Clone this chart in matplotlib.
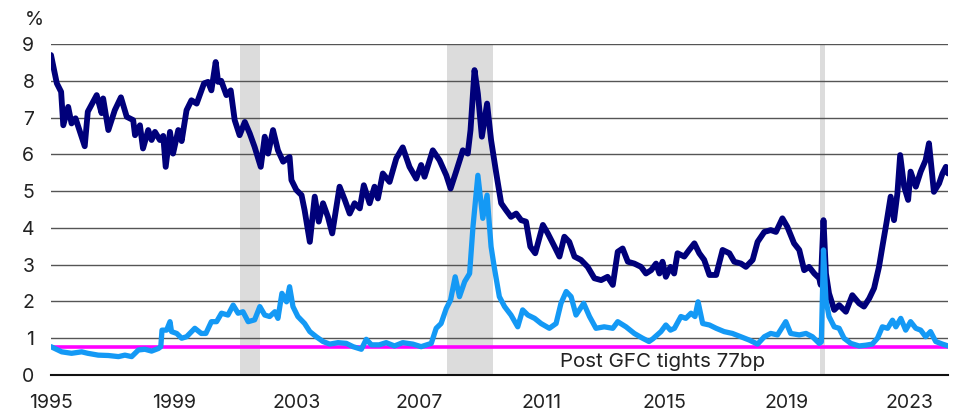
import numpy as np
import matplotlib
matplotlib.use("Agg")
import matplotlib.pyplot as plt

plt.rcParams['font.family'] = ['Inter', 'DejaVu Sans']

# yield (dark navy), decimal years
yield_dates = [1995.0, 1995.19, 1995.33, 1995.40, 1995.56, 1995.67, 1995.8, 1996.1, 1996.2, 1996.49,
               1996.65, 1996.7, 1996.87, 1997.08, 1997.28, 1997.47, 1997.68, 1997.74, 1997.9, 1998.0,
               1998.17, 1998.28, 1998.39, 1998.55, 1998.66, 1998.74, 1998.88, 1998.98, 1999.15, 1999.26,
               1999.42, 1999.58, 1999.75, 1999.85, 1999.99, 2000.12, 2000.23, 2000.37, 2000.45, 2000.55,
               2000.72, 2000.86, 2000.99, 2001.15, 2001.32, 2001.48, 2001.64, 2001.84, 2001.97, 2002.08,
               2002.24, 2002.40, 2002.57, 2002.78, 2002.84, 2003.0, 2003.17, 2003.27, 2003.44, 2003.6,
               2003.73, 2003.87, 2004.03, 2004.17, 2004.41, 2004.58, 2004.74, 2004.9, 2005.07, 2005.2,
               2005.39, 2005.55, 2005.66, 2005.82, 2006.04, 2006.26, 2006.47, 2006.69, 2006.91, 2007.07,
               2007.18, 2007.45, 2007.67, 2007.89, 2008.03, 2008.21, 2008.43, 2008.59, 2008.68, 2008.81,
               2008.92, 2009.05, 2009.22, 2009.35, 2009.52, 2009.68, 2009.84, 2010.0, 2010.17, 2010.33,
               2010.49, 2010.63, 2010.79, 2011.04, 2011.2, 2011.42, 2011.58, 2011.74, 2011.9, 2012.07,
               2012.28, 2012.5, 2012.72, 2012.94, 2013.15, 2013.32, 2013.48, 2013.64, 2013.81, 2014.02,
               2014.24, 2014.4, 2014.57, 2014.73, 2014.84, 2014.94, 2015.05, 2015.2, 2015.32, 2015.43,
               2015.65, 2015.81, 2015.98, 2016.14, 2016.3, 2016.47, 2016.69, 2016.9, 2017.12, 2017.28,
               2017.5, 2017.66, 2017.88, 2018.04, 2018.26, 2018.47, 2018.64, 2018.85, 2019.01, 2019.23,
               2019.4, 2019.56, 2019.72, 2019.89, 2020.05, 2020.1, 2020.19, 2020.27, 2020.37, 2020.54,
               2020.7, 2020.92, 2021.13, 2021.35, 2021.51, 2021.68, 2021.84, 2022.0, 2022.11, 2022.25,
               2022.38, 2022.49, 2022.6, 2022.69, 2022.82, 2022.95, 2023.03, 2023.2, 2023.36, 2023.52,
               2023.63, 2023.79, 2023.96, 2024.07, 2024.18, 2024.25]
yield_vals = [8.70, 7.93, 7.70, 6.79, 7.29, 6.84, 6.98, 6.22, 7.16, 7.61,
              7.12, 7.52, 6.66, 7.20, 7.55, 7.02, 6.93, 6.52, 6.79, 6.16,
              6.66, 6.39, 6.61, 6.39, 6.50, 5.66, 6.61, 6.02, 6.66, 6.36,
              7.20, 7.47, 7.38, 7.61, 7.93, 7.97, 7.74, 8.51, 7.97, 8.00,
              7.61, 7.74, 6.93, 6.52, 6.88, 6.57, 6.20, 5.66, 6.48, 6.02,
              6.66, 6.11, 5.80, 5.93, 5.30, 5.03, 4.89, 4.48, 3.62, 4.85,
              4.17, 4.67, 4.30, 3.85, 5.12, 4.76, 4.39, 4.67, 4.53, 5.16,
              4.67, 5.12, 4.80, 5.48, 5.25, 5.89, 6.19, 5.66, 5.34, 5.71,
              5.39, 6.11, 5.84, 5.43, 5.07, 5.53, 6.11, 6.02, 6.66, 8.29,
              7.65, 6.48, 7.38, 6.39, 5.48, 4.67, 4.48, 4.30, 4.39, 4.21,
              4.17, 3.49, 3.31, 4.08, 3.85, 3.49, 3.22, 3.76, 3.62, 3.22,
              3.13, 2.94, 2.63, 2.58, 2.67, 2.45, 3.35, 3.44, 3.08, 3.03,
              2.94, 2.76, 2.85, 3.03, 2.76, 3.08, 2.67, 2.94, 2.76, 3.31,
              3.22, 3.40, 3.58, 3.31, 3.13, 2.72, 2.72, 3.40, 3.31, 3.08,
              3.03, 2.94, 3.13, 3.62, 3.89, 3.94, 3.89, 4.26, 4.03, 3.58,
              3.40, 2.85, 2.94, 2.76, 2.63, 2.45, 4.21, 2.76, 2.22, 1.77,
              1.90, 1.72, 2.17, 1.95, 1.86, 2.08, 2.36, 2.94, 3.49, 4.17,
              4.85, 4.21, 4.94, 5.98, 5.12, 4.76, 5.53, 5.12, 5.53, 5.84,
              6.30, 4.98, 5.21, 5.48, 5.66, 5.48]

# spread (light blue)
spread_dates = [1995.0, 1995.35, 1995.67, 1996.0, 1996.2, 1996.54, 1996.87, 1997.2, 1997.41, 1997.63,
                1997.85, 1998.06, 1998.28, 1998.5, 1998.58, 1998.62, 1998.77, 1998.88, 1998.93, 1999.1,
                1999.26, 1999.42, 1999.69, 1999.9, 2000.05, 2000.23, 2000.4, 2000.56, 2000.77, 2000.94,
                2001.1, 2001.26, 2001.43, 2001.64, 2001.81, 2001.97, 2002.13, 2002.3, 2002.4, 2002.53,
                2002.68, 2002.78, 2002.89, 2003.05, 2003.27, 2003.44, 2003.65, 2003.87, 2004.09, 2004.36,
                2004.63, 2004.85, 2005.12, 2005.28, 2005.45, 2005.7, 2005.93, 2006.2, 2006.47, 2006.8,
                2007.07, 2007.4, 2007.56, 2007.72, 2007.89, 2008.03, 2008.18, 2008.32, 2008.49, 2008.65,
                2008.76, 2008.92, 2009.08, 2009.22, 2009.35, 2009.46, 2009.62, 2009.79, 2010.0, 2010.22,
                2010.38, 2010.55, 2010.77, 2010.98, 2011.25, 2011.47, 2011.63, 2011.8, 2011.96, 2012.12,
                2012.37, 2012.56, 2012.77, 2013.04, 2013.32, 2013.48, 2013.75, 2014.02, 2014.29, 2014.5,
                2014.62, 2014.89, 2015.05, 2015.2, 2015.33, 2015.54, 2015.7, 2015.87, 2016.0, 2016.1,
                2016.25, 2016.47, 2016.69, 2016.95, 2017.22, 2017.5, 2017.77, 2018.04, 2018.26, 2018.47,
                2018.69, 2018.96, 2019.12, 2019.4, 2019.62, 2019.83, 2020.05, 2020.12, 2020.19, 2020.27,
                2020.37, 2020.54, 2020.7, 2020.86, 2021.08, 2021.35, 2021.57, 2021.78, 2021.95, 2022.11,
                2022.28, 2022.44, 2022.55, 2022.71, 2022.87, 2023.03, 2023.2, 2023.36, 2023.52, 2023.68,
                2023.85, 2024.07, 2024.25]
spread_vals = [0.77, 0.63, 0.59, 0.63, 0.59, 0.54, 0.53, 0.50, 0.54, 0.50,
               0.68, 0.70, 0.65, 0.72, 0.77, 1.22, 1.22, 1.45, 1.18, 1.13,
               1.00, 1.04, 1.27, 1.13, 1.13, 1.45, 1.45, 1.68, 1.63, 1.90,
               1.68, 1.72, 1.45, 1.50, 1.86, 1.63, 1.59, 1.72, 1.54, 2.22,
               1.99, 2.40, 1.86, 1.59, 1.40, 1.18, 1.04, 0.91, 0.84, 0.88,
               0.86, 0.77, 0.70, 0.97, 0.82, 0.82, 0.88, 0.79, 0.88, 0.84,
               0.77, 0.86, 1.27, 1.40, 1.81, 2.04, 2.67, 2.13, 2.54, 2.76,
               4.03, 5.43, 4.26, 4.89, 3.49, 2.90, 2.13, 1.86, 1.63, 1.31,
               1.77, 1.63, 1.54, 1.40, 1.27, 1.40, 1.95, 2.27, 2.13, 1.63,
               1.95, 1.59, 1.27, 1.31, 1.27, 1.45, 1.31, 1.13, 1.00, 0.91,
               0.98, 1.18, 1.36, 1.22, 1.27, 1.59, 1.54, 1.68, 1.59, 1.99,
               1.40, 1.36, 1.27, 1.18, 1.13, 1.04, 0.95, 0.84, 1.04, 1.13,
               1.09, 1.45, 1.13, 1.09, 1.13, 1.04, 0.86, 0.90, 3.40, 2.04,
               1.59, 1.31, 1.27, 1.00, 0.86, 0.79, 0.81, 0.84, 1.00, 1.31,
               1.27, 1.49, 1.31, 1.54, 1.22, 1.45, 1.27, 1.22, 1.04, 1.18,
               0.91, 0.84, 0.79]

recessions = [(2001.17, 2001.83), (2007.92, 2009.42), (2020.08, 2020.24)]
post_gfc_tights = 0.77
year_ticks = [1995, 1999, 2003, 2007, 2011, 2015, 2019, 2023]

fig = plt.figure(figsize=(9.56, 4.13), dpi=100)
ax = fig.add_axes([51/956, 1 - 375/413, (948 - 51)/956, (375 - 44)/413])

for start, end in recessions:
    ax.axvspan(start, end, color='#dcdcdc', lw=0, zorder=0)

for v in range(1, 10):
    ax.axhline(v, color='#555555', lw=1.0, zorder=1)

ax.plot(yield_dates, yield_vals, color='#00007a', lw=4.2, zorder=3,
        solid_joinstyle='round', solid_capstyle='round')
ax.plot(spread_dates, spread_vals, color='#1499f5', lw=3.8, zorder=3,
        solid_joinstyle='round', solid_capstyle='round')
ax.axhline(post_gfc_tights, color='#ff00ff', lw=2.6, zorder=2)
ax.text(2011.6, 0.36, 'Post GFC tights 77bp', fontsize=14.8, ha='left', va='center', color='#222222')

ax.set_xlim(yield_dates[0], yield_dates[-1])
ax.set_ylim(0, 9)
ax.set_yticks(range(0, 10))
ax.set_xticks(year_ticks)
ax.set_xticklabels([str(y) for y in year_ticks])
for s in ['top', 'right', 'left']:
    ax.spines[s].set_visible(False)
ax.spines['bottom'].set_color('#111111')
ax.spines['bottom'].set_linewidth(1.5)
ax.tick_params(axis='both', length=0, labelsize=14, colors='#222222')
ax.tick_params(axis='y', pad=12)
ax.tick_params(axis='x', pad=14)
fig.text(25/956, 1 - 20/413, '%', fontsize=14, ha='left', va='center', color='#222222')

fig.savefig('out.png', dpi=100)
